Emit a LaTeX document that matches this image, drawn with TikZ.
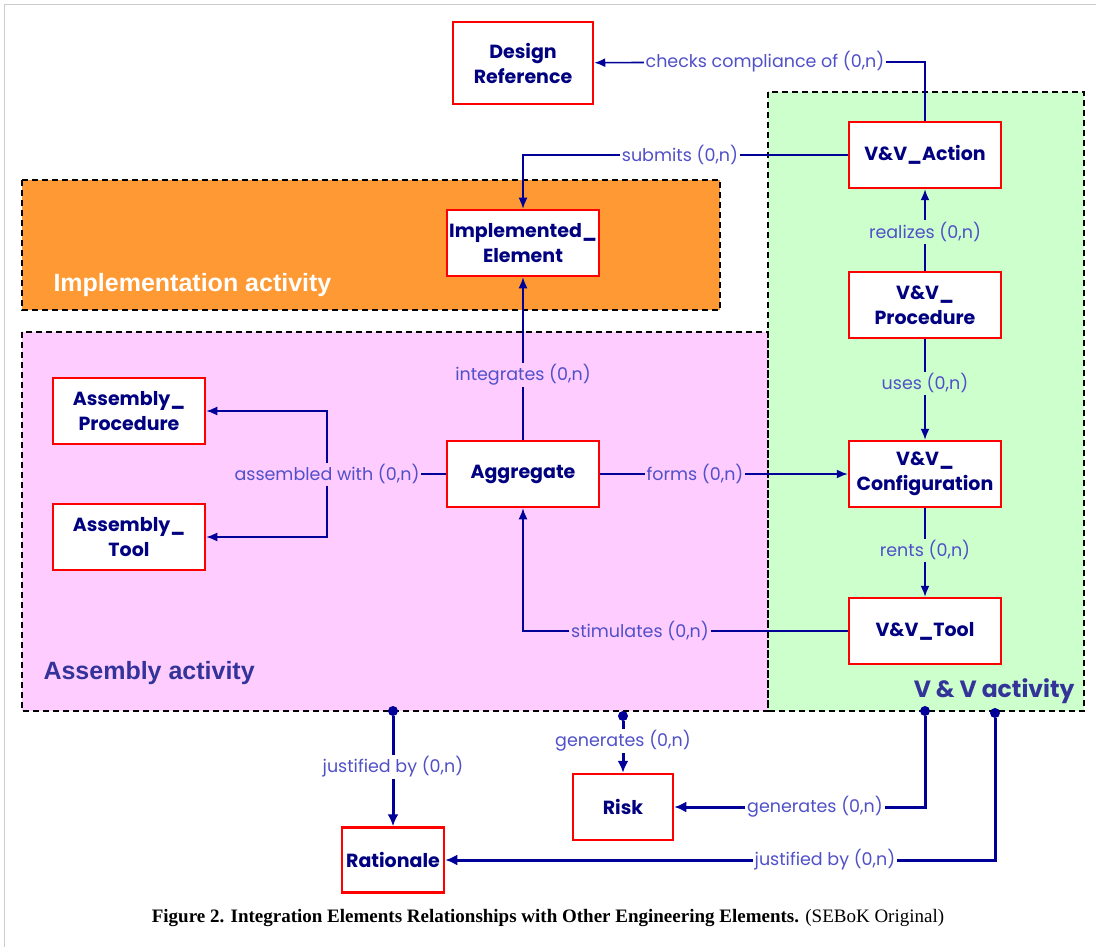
\documentclass[tikz,border=0pt]{standalone}
\usepackage{fontspec}
\setmainfont{Liberation Serif}
\newfontfamily\gothic{Poppins}
\newfontfamily\areafont{Liberation Sans}
\usetikzlibrary{positioning, arrows.meta, calc}

\definecolor{navy}{RGB}{0,0,128}
\definecolor{lineblue}{RGB}{0,0,153}
\definecolor{lblblue}{RGB}{80,80,200}
\definecolor{boxred}{RGB}{255,0,0}
\definecolor{orangebg}{RGB}{255,153,51}
\definecolor{pinkbg}{RGB}{255,204,255}
\definecolor{greenbg}{RGB}{204,255,204}
\definecolor{areablue}{RGB}{51,51,153}

\begin{document}
\begin{tikzpicture}[x=1pt, y=-1pt,
  box/.style={draw=boxred, line width=2.5pt, fill=white, minimum width=152pt,
    minimum height=66pt, align=center, text=navy, inner sep=2pt,
    font=\gothic\bfseries\fontsize{19}{25}\selectfont},
  lbl/.style={text=lblblue, inner sep=1.5pt,
    font=\gothic\fontsize{17.5}{20}\selectfont},
  link/.style={draw=lineblue, line width=1.6pt},
  arrow/.style={link, -{Latex[length=11pt,width=9pt]}},
  heavy/.style={draw=lineblue, line width=3pt},
  harrow/.style={heavy, -{Latex[length=12pt,width=11pt]}},
  area/.style={draw=black, line width=1.3pt, dash pattern=on 6pt off 4pt},
  dot/.style={circle, fill=lineblue, inner sep=0pt, minimum size=10pt},
]
  \useasboundingbox (0,0) rectangle (1096,947);
  \draw[black!20, line width=1pt] (4,947) -- (4,5) -- (1096,5);

  % activity areas
  \fill[orangebg] (22,180) rectangle (720,310);
  \fill[pinkbg] (22,332) rectangle (768,711);
  \fill[greenbg] (768,92) rectangle (1084,711);
  \draw[area] (22,180) rectangle (720,310);
  \draw[area] (22,332) rectangle (768,711);
  \draw[area] (768,92) rectangle (1084,711);

  \node[anchor=west, text=white, font=\areafont\bfseries\fontsize{25}{28}\selectfont]
    (implarea) at (50,285) {Implementation activity};
  \node[anchor=west, text=areablue, font=\areafont\bfseries\fontsize{25}{28}\selectfont]
    (asmarea) at (40,673) {Assembly activity};
  \node[anchor=east, text=areablue, font=\gothic\bfseries\fontsize{23.5}{27}\selectfont]
    (vvarea) at (1078,691) {V \& V activity};

  % elements
  \node[box, minimum width=140pt, minimum height=82pt] (dref) at (523,63) {Design\\Reference};
  \node[box] (vvact) at (925,155) {V\&V\_Action};
  \node[box] (impl) at (523,243) {Implemented\_\\Element};
  \node[box] (vvproc) at (925,305) {V\&V\_\\Procedure};
  \node[box] (vvcfg) at (925,474) {V\&V\_\\Configuration};
  \node[box] (vvtool) at (925,631) {V\&V\_Tool};
  \node[box] (agg) at (523,474) {Aggregate};
  \node[box] (asmproc) at (129,411) {Assembly\_\\Procedure};
  \node[box] (asmtool) at (129,537) {Assembly\_\\Tool};
  \node[box, minimum width=100pt] (risk) at (623,807) {Risk};
  \node[box, minimum width=102pt, minimum height=65pt] (rat) at (393,860) {Rationale};

  % relation labels
  \node[lbl] (chk) at (765,62) {checks compliance of (0,n)};
  \node[lbl] (sub) at (680,155) {submits (0,n)};
  \node[lbl] (rea) at (925,232) {realizes (0,n)};
  \node[lbl] (use) at (925,383) {uses (0,n)};
  \node[lbl] (ren) at (925,550) {rents (0,n)};
  \node[lbl] (intg) at (523,375) {integrates (0,n)};
  \node[lbl] (asm) at (327,474) {assembled with (0,n)};
  \node[lbl] (frm) at (695,474) {forms (0,n)};
  \node[lbl] (stim) at (640,631) {stimulates (0,n)};
  \node[lbl] (jus1) at (393,767) {justified by (0,n)};
  \node[lbl] (gen1) at (623,741) {generates (0,n)};
  \node[lbl] (gen2) at (815,807) {generates (0,n)};
  \node[lbl] (jus2) at (825,860) {justified by (0,n)};

  \node[dot] (d1) at (393,711) {};
  \node[dot] (d2) at (623,716) {};
  \node[dot] (d3) at (925,711) {};
  \node[dot] (d4) at (995,713) {};

  % relations
  \draw[link] (vvact) |- (chk);
  \draw[arrow] (chk) -- (dref);
  \draw[link] (vvact) -- (sub);
  \draw[arrow] (sub) -| (impl);
  \draw[link] (vvproc) -- (rea);
  \draw[arrow] (rea) -- (vvact);
  \draw[link] (vvproc) -- (use);
  \draw[arrow] (use) -- (vvcfg);
  \draw[link] (vvcfg) -- (ren);
  \draw[arrow] (ren) -- (vvtool);
  \draw[link] (agg) -- (intg);
  \draw[arrow] (intg) -- (impl);
  \draw[link] (agg) -- (asm);
  \draw[arrow] (asm) |- (asmproc);
  \draw[arrow] (asm) |- (asmtool);
  \draw[link] (agg) -- (frm);
  \draw[arrow] (frm) -- (vvcfg);
  \draw[link] (vvtool) -- (stim);
  \draw[arrow] (stim) -| (agg);

  % outside links
  \draw[heavy] (d1) -- (jus1);
  \draw[harrow] (jus1) -- (rat);
  \draw[heavy] (d2) -- (gen1);
  \draw[harrow] (gen1) -- (risk);
  \draw[heavy] (d3) |- (gen2);
  \draw[harrow] (gen2) -- (risk);
  \draw[heavy] (d4) |- (jus2);
  \draw[harrow] (jus2) -- (rat);

  \node[font=\fontsize{19}{22}\selectfont] (caption) at (548,918)
    {\textbf{Figure 2. Integration Elements Relationships with Other Engineering Elements.} (SEBoK Original)};
\end{tikzpicture}
\end{document}
